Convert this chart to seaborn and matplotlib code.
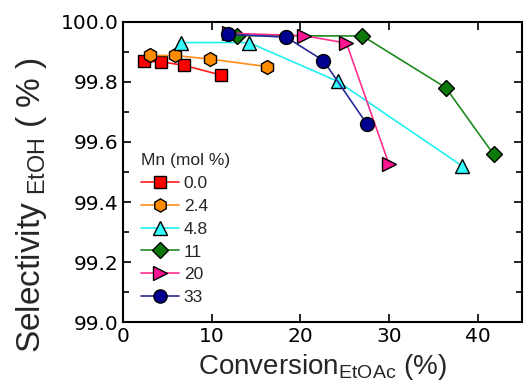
import pandas as pd
import matplotlib
matplotlib.use('Agg')
import matplotlib.pyplot as plt
import seaborn as sns
from matplotlib.ticker import MultipleLocator

# Mn loading (mol %) and conversion / selectivity
mn_labels = ['0.0', '2.4', '4.8', '11', '20', '33']
conv_00 = [2.4, 4.3, 6.9, 11.0]
sel_00 = [99.868, 99.867, 99.855, 99.823]
conv_24 = [3.0, 5.8, 9.8, 16.2]
sel_24 = [99.888, 99.888, 99.876, 99.851]
conv_48 = [6.5, 14.2, 24.2, 38.2]
sel_48 = [99.931, 99.931, 99.802, 99.521]
conv_11 = [12.8, 27.0, 36.4, 41.8]
sel_11 = [99.954, 99.953, 99.781, 99.559]
conv_20 = [11.9, 20.4, 25.2, 30.0]
sel_20 = [99.962, 99.954, 99.929, 99.526]
conv_33 = [11.8, 18.4, 22.6, 27.5]
sel_33 = [99.959, 99.949, 99.871, 99.660]

convs = [conv_00, conv_24, conv_48, conv_11, conv_20, conv_33]
sels = [sel_00, sel_24, sel_48, sel_11, sel_20, sel_33]

rows = []
for lab, xs, ys in zip(mn_labels, convs, sels):
    for x, y in zip(xs, ys):
        rows.append({'Mn': lab, 'conv': x, 'sel': y})
df = pd.DataFrame(rows)

line_colors = {'0.0': '#ff1a1a', '2.4': '#ff8c1a', '4.8': '#22f0f0',
               '11': '#1f8a1f', '20': '#ff2f8f', '33': '#2a2a9a'}
face_colors = {'0.0': '#ff0000', '2.4': '#ff8c00', '4.8': '#33ffff',
               '11': '#0b7a0b', '20': '#ff1493', '33': '#000090'}
markers = {'0.0': 's', '2.4': 'h', '4.8': '^', '11': 'D', '20': '>', '33': 'o'}
sizes = {'0.0': 8.5, '2.4': 10, '4.8': 10, '11': 8.5, '20': 10, '33': 10}

sns.set_style('ticks')
plt.rcParams['font.family'] = ['DejaVu Sans']
plt.rcParams['mathtext.default'] = 'regular'

fig = plt.figure(figsize=(5.24, 3.90), dpi=100)
ax = fig.add_axes([0.235, 0.174, 0.761, 0.770])

sns.lineplot(data=df, x='conv', y='sel', hue='Mn', style='Mn',
             hue_order=mn_labels, style_order=mn_labels,
             palette=line_colors, markers=markers, dashes=False,
             sort=False, markersize=10, markeredgecolor='black',
             markeredgewidth=1.0, linewidth=1.2, ax=ax)

# marker faces differ slightly from line colours
for line, lab in zip(ax.get_lines(), mn_labels):
    line.set_markerfacecolor(face_colors[lab])
    line.set_markersize(sizes[lab])

handles, labels = ax.get_legend_handles_labels()
for h, lab in zip(handles, labels):
    if lab in face_colors:
        h.set_markerfacecolor(face_colors[lab])
        h.set_markeredgecolor('black')
        h.set_markersize(sizes[lab] - 0.5)
leg = ax.legend(handles, labels, title='Mn (mol %)', frameon=False,
                loc='upper left', bbox_to_anchor=(0.028, 0.585),
                prop={'family': 'Liberation Sans', 'size': 12.5},
                title_fontproperties={'family': 'Liberation Sans', 'size': 12.5},
                handlelength=2.2, labelspacing=0.44, handletextpad=0.25,
                borderaxespad=0)
leg._legend_box.align = 'left'

ax.set_xlim(0, 45)
ax.set_ylim(99.0, 100.0)
ax.xaxis.set_major_locator(MultipleLocator(10))
ax.yaxis.set_major_locator(MultipleLocator(0.2))
ax.yaxis.set_minor_locator(MultipleLocator(0.1))
ax.yaxis.set_major_formatter(matplotlib.ticker.FormatStrFormatter('%.1f'))
ax.tick_params(which='both', direction='in', top=True, right=True,
               labelsize=14.5, width=1.2, colors='black')
ax.tick_params(which='major', length=6)
ax.tick_params(which='minor', length=4)
for sp in ax.spines.values():
    sp.set_linewidth(1.5)
    sp.set_color('black')

ax.set_xlabel(r'Conversion$_{EtOAc}$ (%)', fontsize=20,
              family='Liberation Sans', labelpad=4)
ax.set_ylabel(r'Selectivity$_{\ EtOH}$ ( % )', fontsize=24,
              family='Liberation Sans')
ax.yaxis.set_label_coords(-0.185, 0.39)

fig.savefig('out.png', dpi=100)
